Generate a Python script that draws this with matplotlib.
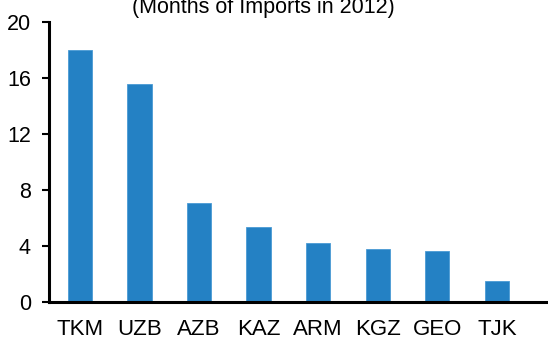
import matplotlib
matplotlib.use("Agg")
from matplotlib import pyplot as plt

# reserves coverage by country
countries = ["TKM", "UZB", "AZB", "KAZ", "ARM", "KGZ", "GEO", "TJK"]
months = [18.0, 15.6, 7.1, 5.35, 4.2, 3.8, 3.65, 1.5]
yticks = [0, 4, 8, 12, 16, 20]

plt.rcParams['font.family'] = ['Liberation Sans', 'DejaVu Sans']

fig = plt.figure(figsize=(5.48, 3.39), dpi=100)
ax = fig.add_axes([0.0894, 0.109, 0.915, 0.826])

x = range(len(countries))
ax.bar(x, months, width=0.41, color='#2481C4', edgecolor='#4a9ad4', linewidth=0.6)

ax.set_ylim(0, 20)
ax.set_xlim(-0.52, 7.9)
ax.set_yticks(yticks)
ax.set_xticks(list(x))
ax.set_xticklabels(countries)

for side in ['top', 'right']:
    ax.spines[side].set_visible(False)
for side in ['left', 'bottom']:
    ax.spines[side].set_linewidth(2.2)

ax.tick_params(axis='y', direction='out', length=5, width=1.5, labelsize=15.5, pad=8)
ax.tick_params(axis='x', length=0, labelsize=16, pad=12)

# title sits partly above the canvas
fig.text(263 / 548, 1 - 12.5 / 339, "(Months of Imports in 2012)",
         ha='center', va='baseline', fontsize=15.5)

fig.savefig("out.png", dpi=100)
